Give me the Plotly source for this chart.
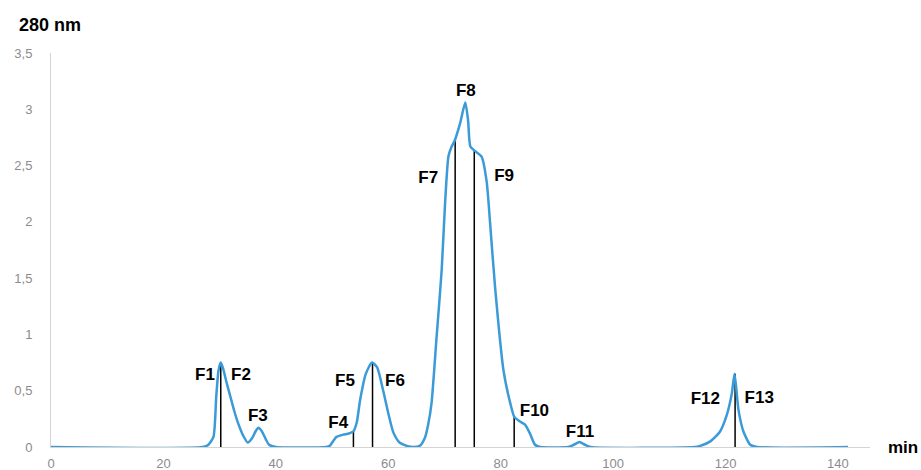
import plotly.graph_objects as go

# Chromatogram trace (time in min, absorbance at 280 nm)
time_min = [0, 27, 28, 28.9, 29.4, 29.8, 30.2, 30.6, 31.2, 31.9, 32.6, 33.3, 34.2, 35.0, 35.8,
            36.4, 36.9, 37.5, 38.2, 38.8, 40, 49, 49.6, 50.3, 50.8, 52.0, 53.0, 53.8, 54.4, 55.0,
            56.0, 57.1, 58.0, 59.1, 60.0, 60.9, 62.0, 63.3, 64.5, 65.6, 66.5, 67.1, 67.7, 68.6,
            69.5, 70.1, 70.7, 71.2, 71.8, 72.8, 73.7, 74.2, 74.6, 75.4, 76.6, 77.5, 78.1, 79.0,
            80.5, 81.7, 82.4, 83.3, 84.3, 85.2, 86.1, 87, 92, 93, 94, 95, 96, 114.5, 115.5, 117.3,
            119, 120.2, 121.1, 121.6, 122.3, 123.2, 124.4, 125.6, 141.8]
absorbance = [0, 0, 0.02, 0.09, 0.45, 0.68, 0.75, 0.70, 0.58, 0.45, 0.32, 0.21, 0.10, 0.04, 0.08,
              0.14, 0.17, 0.14, 0.07, 0.02, 0, 0, 0.01, 0.06, 0.09, 0.11, 0.12, 0.14, 0.22, 0.42,
              0.65, 0.75, 0.71, 0.50, 0.30, 0.13, 0.04, 0.01, 0, 0.01, 0.08, 0.20, 0.39, 0.98,
              1.57, 2.16, 2.58, 2.66, 2.72, 2.88, 3.06, 2.90, 2.67, 2.63, 2.58, 2.36, 2.00, 1.42,
              0.68, 0.39, 0.27, 0.23, 0.20, 0.12, 0.02, 0, 0, 0.02, 0.045, 0.02, 0, 0, 0.01, 0.05,
              0.135, 0.28, 0.47, 0.65, 0.33, 0.135, 0.02, 0, 0]

# Fraction cut lines
cut_times = [30.2, 53.8, 57.2, 71.9, 75.3, 82.4, 121.7]
cut_heights = [0.75, 0.14, 0.75, 2.72, 2.63, 0.27, 0.65]

# Fraction labels
frac_labels = ["F1", "F2", "F3", "F4", "F5", "F6", "F7", "F8", "F9", "F10", "F11", "F12", "F13"]
frac_x = [27.4, 33.8, 36.8, 51.1, 52.3, 61.2, 67.1, 73.8, 80.6, 86.0, 94.1, 116.4, 126.0]
frac_y = [0.63, 0.63, 0.27, 0.21, 0.58, 0.58, 2.38, 3.16, 2.40, 0.31, 0.13, 0.42, 0.43]

x_tickvals = [0, 20, 40, 60, 80, 100, 120, 140]
x_ticktext = ["0", "20", "40", "60", "80", "100", "120", "140"]
y_tickvals = [0, 0.5, 1, 1.5, 2, 2.5, 3, 3.5]
y_ticktext = ["0", "0,5", "1", "1,5", "2", "2,5", "3", "3,5"]

fig = go.Figure()

cx, cy = [], []
for t, h in zip(cut_times, cut_heights):
    cx += [t, t, None]
    cy += [0, h, None]
fig.add_trace(go.Scatter(x=cx, y=cy, mode="lines",
                         line=dict(color="black", width=1.5), hoverinfo="skip"))

fig.add_trace(go.Scatter(x=time_min, y=absorbance, mode="lines",
                         line=dict(color="#3b9ad8", width=2.5, shape="spline", smoothing=0.6)))

fig.add_trace(go.Scatter(x=frac_x, y=frac_y, mode="text", text=frac_labels,
                         textfont=dict(family="Liberation Sans, Arial", size=17, color="black",
                                       weight="bold"),
                         hoverinfo="skip", cliponaxis=False))

fig.update_layout(
    width=921, height=470,
    margin=dict(l=51, r=51, t=53, b=23, autoexpand=False),
    paper_bgcolor="white", plot_bgcolor="white",
    showlegend=False,
    font=dict(family="Liberation Sans, Arial", color="#8c8c8c", size=13),
    xaxis=dict(range=[0, 145.7], tickvals=x_tickvals, ticktext=x_ticktext, automargin=False,
               showgrid=False, zeroline=False, showline=True, linecolor="#d4d4d4",
               linewidth=1, ticks="", ticklabelstandoff=4,
               tickfont=dict(size=13, color="#8c8c8c")),
    yaxis=dict(range=[0, 3.5], tickvals=y_tickvals, ticktext=y_ticktext, automargin=False,
               showgrid=False, zeroline=False, showline=True, linecolor="#d4d4d4",
               linewidth=1, ticks="", ticklabelstandoff=15,
               tickfont=dict(size=13, color="#8c8c8c")),
    annotations=[
        dict(text="<b>280 nm</b>", xref="paper", yref="paper", x=-0.001, y=1.071,
             xanchor="center", yanchor="middle", showarrow=False,
             font=dict(size=18, color="black", family="Liberation Sans, Arial")),
        dict(text="<b>min</b>", xref="paper", yref="paper", x=1.04, y=0.0,
             xanchor="center", yanchor="middle", showarrow=False,
             font=dict(size=17, color="black", family="Liberation Sans, Arial")),
    ],
)

fig.write_html("out.html", config={"displayModeBar": False},
               post_script="document.body.style.margin='0';")
